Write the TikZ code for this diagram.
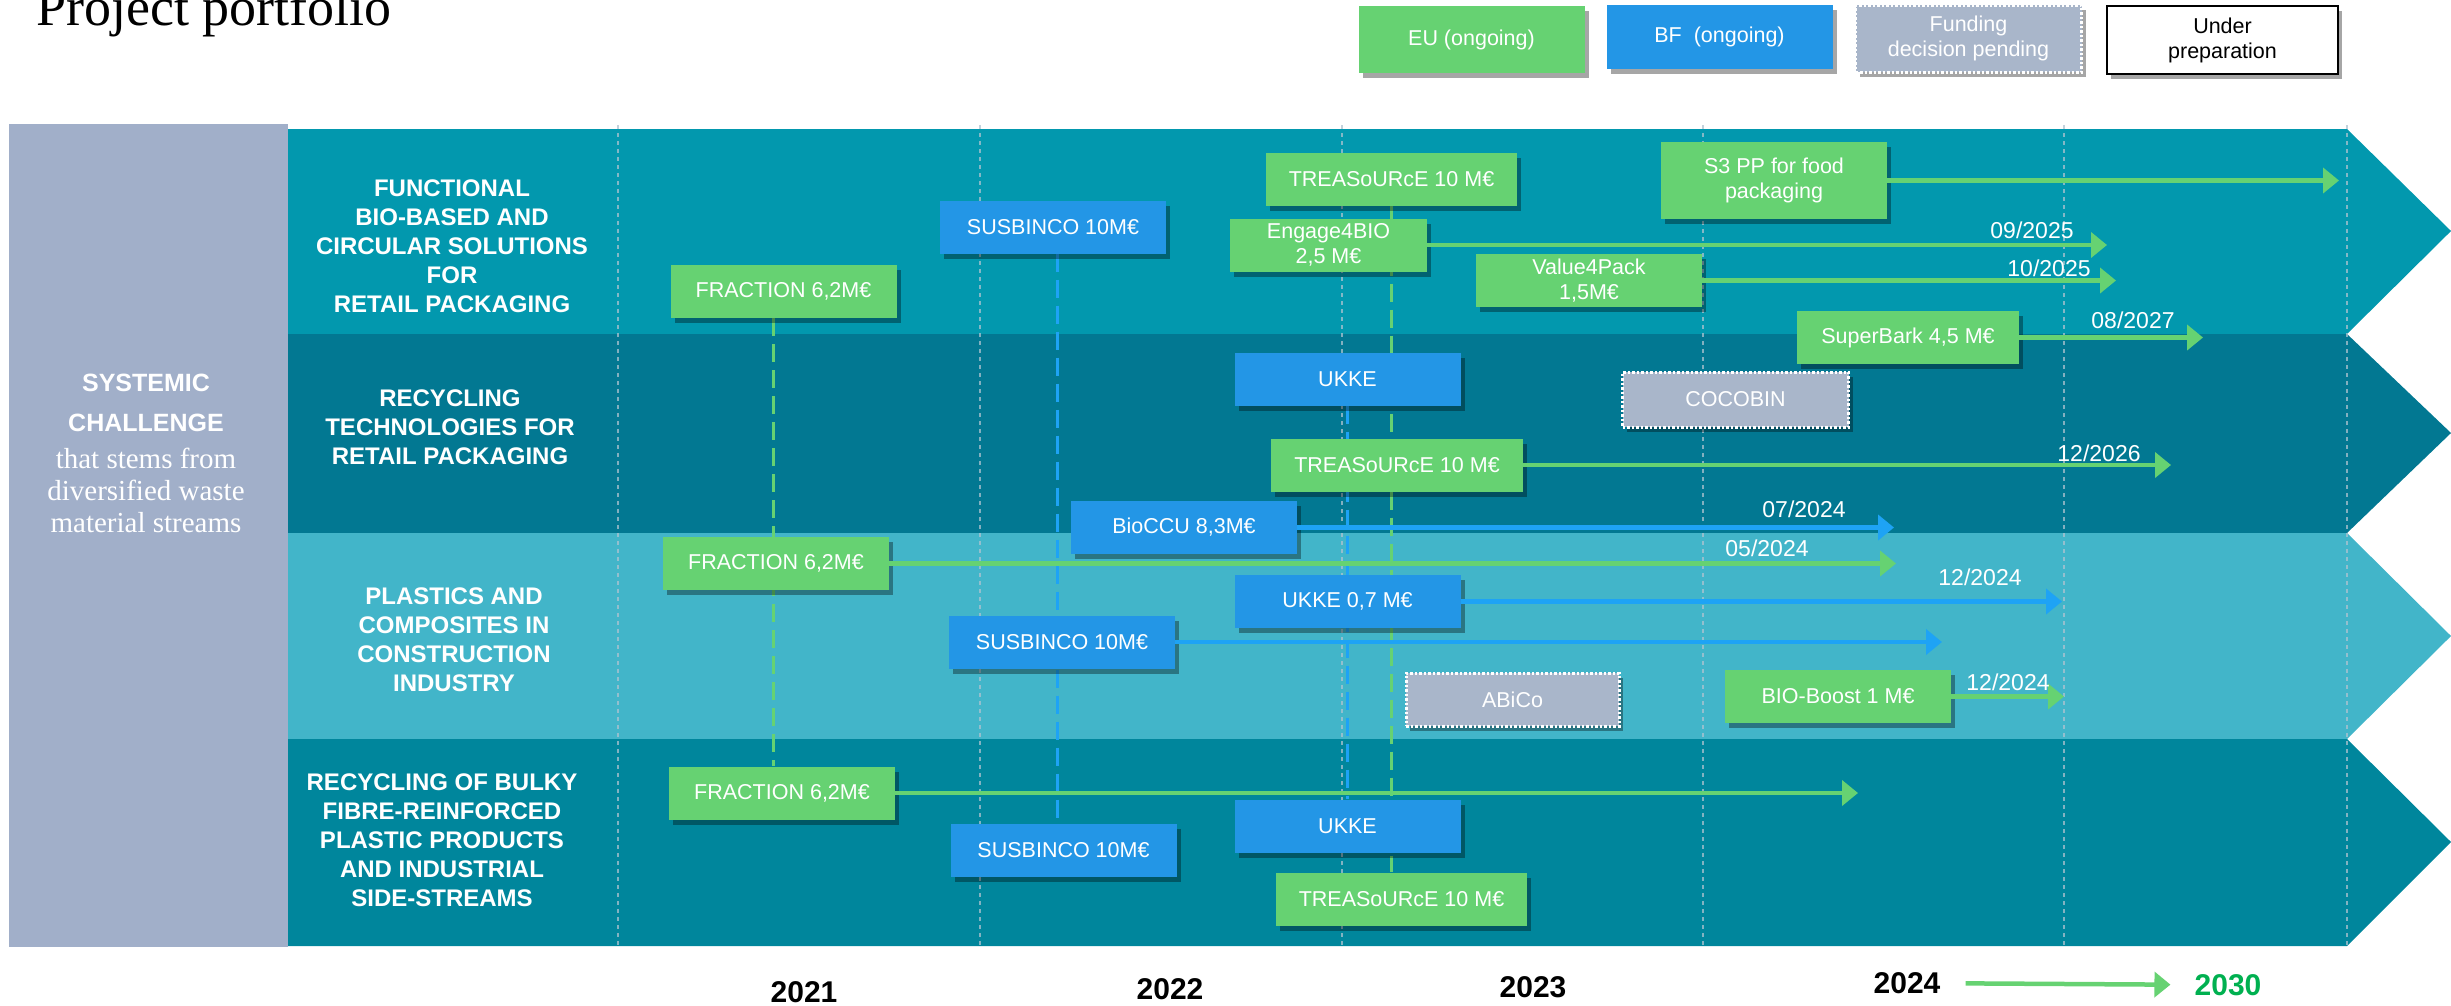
\documentclass[tikz,border=0pt]{standalone}
\usepackage{fontspec}
\setmainfont{Liberation Serif}
\setsansfont{Liberation Sans}
\usepackage{xcolor}
\usetikzlibrary{arrows.meta, positioning, shadows}
\pgfdeclarelayer{background}
\pgfsetlayers{background,main}

\definecolor{bandA}{RGB}{2,152,174}
\definecolor{bandB}{RGB}{2,120,146}
\definecolor{bandC}{RGB}{66,181,201}
\definecolor{bandD}{RGB}{0,134,156}
\definecolor{challenge}{RGB}{161,175,201}
\definecolor{eugreen}{RGB}{102,210,114}
\definecolor{bfblue}{RGB}{35,150,230}
\definecolor{arrowblue}{RGB}{30,163,245}
\definecolor{pendgray}{RGB}{169,182,202}
\definecolor{gridgray}{RGB}{175,195,208}
\definecolor{goalgreen}{RGB}{0,176,80}

\newcommand\projfont{\sffamily\fontsize{21.5}{25}\selectfont}
\newcommand\themefont{\sffamily\bfseries\fontsize{24}{29}\selectfont}
\newcommand\datefont{\sffamily\fontsize{23}{26}\selectfont}
\newcommand\yearfont{\sffamily\bfseries\fontsize{30}{34}\selectfont}

\tikzstyle{project} = [rectangle, minimum width=226pt, minimum height=53pt, inner sep=0pt, align=center, text=white, font=\projfont, drop shadow={shadow xshift=4pt, shadow yshift=-5pt, opacity=0.35, fill=black}]
\tikzstyle{eu} = [project, fill=eugreen]
\tikzstyle{bf} = [project, fill=bfblue]
\tikzstyle{pending} = [project, fill=pendgray, draw=white, line width=3pt, dash pattern=on 2.5pt off 2pt]
\tikzstyle{prep} = [project, fill=white, draw=black, line width=2pt, text=black]
\tikzstyle{greenarrow} = [color=eugreen, line width=4.5pt, -{Triangle[length=16pt 0 0, width=25pt 0 0]}]
\tikzstyle{bluearrow} = [color=arrowblue, line width=4.5pt, -{Triangle[length=16pt 0 0, width=25pt 0 0]}]
\tikzstyle{greenlink} = [draw=eugreen, line width=3pt, dash pattern=on 18pt off 8pt]
\tikzstyle{bluelink} = [draw=arrowblue, line width=3pt, dash pattern=on 18pt off 8pt]
\tikzstyle{grid} = [draw=gridgray, opacity=0.75, line width=2.5pt, dash pattern=on 4pt off 4pt]
\tikzstyle{theme} = [text=white, align=center, font=\themefont]
\tikzstyle{date} = [text=white, font=\datefont, inner sep=0pt]
\tikzstyle{year} = [font=\yearfont, inner sep=0pt]

\begin{document}
\begin{tikzpicture}[x=1pt, y=-1pt]
    \useasboundingbox (0,0) rectangle (2451,1005);
    \clip (0,0) rectangle (2451,1005);

    % bands and year grid
    \begin{pgfonlayer}{background}
        \fill[challenge] (9,124) rectangle (288,947);
        \fill[bandA] (288,129) -- (2347,129) -- (2451,231) -- (2347,334) -- (288,334) -- cycle;
        \fill[bandB] (288,334) -- (2347,334) -- (2451,433) -- (2347,533) -- (288,533) -- cycle;
        \fill[bandC] (288,533) -- (2347,533) -- (2451,636) -- (2347,739) -- (288,739) -- cycle;
        \fill[bandD] (288,739) -- (2347,739) -- (2451,842) -- (2347,946) -- (288,946) -- cycle;
        \foreach \x in {618,980,1342,1703,2064,2347}
            \draw[grid] (\x,125) -- (\x,946);
    \end{pgfonlayer}

    \node (title) [anchor=base west, inner sep=0pt, font=\fontsize{54}{60}\selectfont] at (36,25) {Project portfolio};

    % legend
    \node (leu) [eu, minimum height=67pt] at (1471.5,39.5) {EU (ongoing)};
    \node (lbf) [bf, minimum height=64pt] at (1719.5,37) {BF~ (ongoing)};
    \node (lpend) [pending, minimum height=67pt] at (1968.5,38.5) {Funding\\decision pending};
    \node (lprep) [prep, minimum width=231pt, minimum height=68pt] at (2222.5,40) {Under\\preparation};

    % left column
    \node (challenge) [text=white, align=center, font=\sffamily\bfseries\fontsize{25}{40}\selectfont] at (146,403) {SYSTEMIC\\CHALLENGE};
    \node (stems) [text=white, align=center, font=\rmfamily\fontsize{29}{32}\selectfont] at (146,490) {that stems from\\diversified waste\\material streams};

    \node (theme1) [theme] at (452,246) {FUNCTIONAL\\BIO-BASED AND\\CIRCULAR SOLUTIONS\\FOR\\RETAIL PACKAGING};
    \node (theme2) [theme] at (450,427) {RECYCLING\\TECHNOLOGIES FOR\\RETAIL PACKAGING};
    \node (theme3) [theme] at (454,640) {PLASTICS AND\\COMPOSITES IN\\CONSTRUCTION\\INDUSTRY};
    \node (theme4) [theme] at (442,840) {RECYCLING OF BULKY\\FIBRE-REINFORCED\\PLASTIC PRODUCTS\\AND INDUSTRIAL\\SIDE-STREAMS};

    % retail packaging
    \node (frac1) [eu] at (783.5,291.5) {FRACTION 6,2M€};
    \node (sus1) [bf] at (1053,227) {SUSBINCO 10M€};
    \node (trea1) [eu, minimum width=251pt] at (1391.5,179) {TREASoURcE 10 M€};
    \node (engage) [eu, minimum width=197pt] at (1328.5,245) {Engage4BIO\\2,5 M€};
    \node (value) [eu] at (1589,280.5) {Value4Pack\\1,5M€};
    \node (sthree) [eu, minimum height=77pt] at (1774,180.5) {S3 PP for food\\packaging};
    \node (bark) [eu, minimum width=222pt] at (1908,337.5) {SuperBark 4,5 M€};

    % recycling technologies
    \node (ukke2) [bf] at (1347.5,379) {UKKE};
    \node (cocobin) [pending, minimum height=55pt] at (1735.5,399.5) {COCOBIN};
    \node (trea2) [eu, minimum width=252pt] at (1397,465) {TREASoURcE 10 M€};
    \node (bioccu) [bf] at (1184,527.5) {BioCCU 8,3M€};

    % construction industry
    \node (frac3) [eu] at (776,563.5) {FRACTION 6,2M€};
    \node (ukke3) [bf] at (1347.5,601.5) {UKKE 0,7 M€};
    \node (sus3) [bf] at (1062,642) {SUSBINCO 10M€};
    \node (abico) [pending, minimum width=213pt] at (1512.5,699.5) {ABiCo};
    \node (boost) [eu] at (1838,696.5) {BIO-Boost 1 M€};

    % bulky products and side-streams
    \node (frac4) [eu] at (782,793) {FRACTION 6,2M€};
    \node (sus4) [bf] at (1063.5,850) {SUSBINCO 10M€};
    \node (ukke4) [bf] at (1347.5,826) {UKKE};
    \node (trea4) [eu, minimum width=251pt] at (1401.5,899) {TREASoURcE 10 M€};

    % project links across themes
    \coordinate (fraclink) at ([xshift=-10pt]frac1.south);
    \coordinate (suslink) at ([xshift=4pt]sus1.south);
    \begin{pgfonlayer}{background}
        \path[greenlink] (fraclink) edge (fraclink |- frac4.north)
                         (trea1.south) edge (trea1.south |- trea4.north);
        \path[bluelink] (suslink) edge (suslink |- sus4.north)
                        (ukke2) edge (ukke4);
    \end{pgfonlayer}

    % end dates
    \coordinate (engageend) at (2107,245);
    \coordinate (valueend) at (2116,280.5);
    \coordinate (sthreeend) at (2339,180.5);
    \coordinate (barkend) at (2203,337.5);
    \coordinate (trea2end) at (2171,465);
    \coordinate (bioccuend) at (1894,527.5);
    \coordinate (frac3end) at (1896,563.5);
    \coordinate (ukke3end) at (2062,601.5);
    \coordinate (sus3end) at (1942,642);
    \coordinate (boostend) at (2064,696.5);
    \coordinate (frac4end) at (1858,793);

    \path[greenarrow] (engage) edge (engageend)
                      (value) edge (valueend)
                      (sthree) edge (sthreeend)
                      (bark) edge (barkend)
                      (trea2) edge (trea2end)
                      (frac3) edge (frac3end)
                      (boost) edge (boostend)
                      (frac4) edge (frac4end);
    \path[bluearrow] (bioccu) edge (bioccuend)
                     (ukke3) edge (ukke3end)
                     (sus3) edge (sus3end);

    \node (d0925) [date] at (2032,230) {09/2025};
    \node (d1025) [date] at (2049,268) {10/2025};
    \node (d0827) [date] at (2133,320) {08/2027};
    \node (d1226) [date] at (2099,453) {12/2026};
    \node (d0724) [date] at (1804,509) {07/2024};
    \node (d0524) [date] at (1767,548) {05/2024};
    \node (d1224a) [date] at (1980,577) {12/2024};
    \node (d1224b) [date] at (2008,682) {12/2024};

    % years
    \node (y21) [year] at (804,992) {2021};
    \node (y22) [year] at (1170,989) {2022};
    \node (y23) [year] at (1533,987) {2023};
    \node (y24) [year] at (1907,983) {2024};
    \node (y30) [year, text=goalgreen] at (2228,985) {2030};
    \path[greenarrow, shorten <=25pt, shorten >=24pt] (y24) edge (y30);
\end{tikzpicture}
\end{document}
